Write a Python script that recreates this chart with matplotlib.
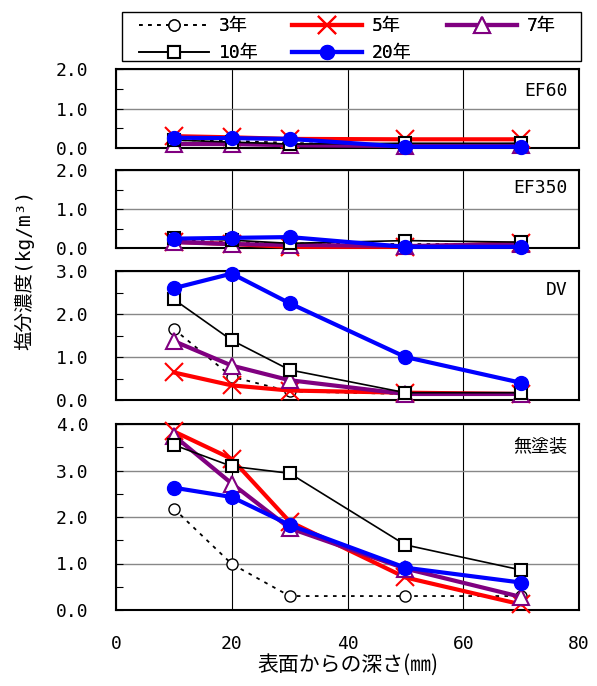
import matplotlib.pyplot as plt
from matplotlib.patches import Rectangle
from matplotlib.ticker import MultipleLocator, FormatStrFormatter

plt.rcParams['font.family'] = ['DejaVu Sans Mono', 'Noto Sans CJK JP']

# data
depth = [10, 20, 30, 50, 70]
years = ['3年', '5年', '7年', '10年', '20年']
panels = ['EF60', 'EF350', 'DV', '無塗装']

ef60 = [[0.20, 0.18, 0.13, 0.05, 0.05],
        [0.30, 0.27, 0.23, 0.22, 0.22],
        [0.10, 0.10, 0.07, 0.05, 0.08],
        [0.20, 0.15, 0.10, 0.12, 0.12],
        [0.26, 0.25, 0.23, 0.03, 0.03]]
ef350 = [[0.20, 0.15, 0.12, 0.10, 0.10],
         [0.16, 0.10, 0.03, 0.03, 0.12],
         [0.15, 0.10, 0.08, 0.05, 0.10],
         [0.26, 0.20, 0.12, 0.19, 0.15],
         [0.24, 0.26, 0.28, 0.03, 0.03]]
dv = [[1.65, 0.54, 0.20, 0.14, 0.12],
      [0.64, 0.34, 0.22, 0.17, 0.14],
      [1.37, 0.80, 0.46, 0.14, 0.14],
      [2.34, 1.39, 0.70, 0.17, 0.17],
      [2.60, 2.94, 2.25, 1.00, 0.40]]
mutosou = [[2.18, 0.99, 0.30, 0.30, 0.30],
           [3.84, 3.25, 1.90, 0.70, 0.12],
           [3.75, 2.72, 1.76, 0.89, 0.28],
           [3.55, 3.09, 2.94, 1.40, 0.86],
           [2.63, 2.43, 1.83, 0.91, 0.59]]
ymax = [2, 2, 3, 4]

styles = [dict(color='black', ls=(0, (2, 3)), lw=1.3, marker='o', ms=8, mfc='white', mew=1),
          dict(color='red', ls='-', lw=3, marker='x', ms=13, mew=1.5),
          dict(color='#800080', ls='-', lw=3, marker='^', ms=12, mfc='white', mew=1.5),
          dict(color='black', ls='-', lw=1.2, marker='s', ms=9, mfc='white', mew=1.5),
          dict(color='blue', ls='-', lw=3, marker='o', ms=10)]

fig = plt.figure(figsize=(5.97, 6.86), dpi=100)
# axes boxes in pixels (top, bottom)
boxes = [(69, 148), (170, 248), (271, 400), (424, 610)]
left, right = 116, 579
W, H = 597.0, 686.0
label_y = [0.72, 0.77, 0.85, 0.875]

handles = []
for i, (data, name) in enumerate(zip([ef60, ef350, dv, mutosou], panels)):
    top, bot = boxes[i]
    ax = fig.add_axes([left / W, 1 - bot / H, (right - left) / W, (bot - top) / H])
    for j in range(len(years)):
        h, = ax.plot(depth, data[j], label=years[j], clip_on=False, zorder=3 + j, **styles[j])
        if i == 0:
            handles.append(h)
    ax.set_xlim(0, 80)
    ax.set_ylim(0, ymax[i])
    ax.xaxis.set_major_locator(MultipleLocator(20))
    ax.yaxis.set_major_locator(MultipleLocator(1))
    ax.yaxis.set_minor_locator(MultipleLocator(0.5))
    ax.yaxis.set_major_formatter(FormatStrFormatter('%.1f'))
    ax.xaxis.grid(True, color='black', lw=0.8)
    ax.yaxis.grid(True, color='#888888', lw=1.0)
    ax.set_axisbelow(True)
    ax.tick_params(axis='y', which='both', direction='in', length=5, width=0.8,
                   labelsize=13, pad=20)
    ax.tick_params(axis='x', direction='in', length=0, labelsize=13, pad=18)
    if i < 3:
        ax.set_xticklabels([])
    for s in ax.spines.values():
        s.set_linewidth(1.5)
    ax.text(0.975, label_y[i], name, transform=ax.transAxes, ha='right', va='center',
            fontsize=13)

fig.text(347.5 / W, 1 - 665 / H, '表面からの深さ(㎜)', ha='center', va='center',
         fontsize=15, family=['Noto Sans CJK JP', 'DejaVu Sans'])
fig.text(0.040, 1 - 270 / H, '塩分濃度(kg/m³)', rotation=90, ha='center', va='center',
         fontsize=14)

# legend: three columns placed by hand, frame drawn separately
columns = [[0, 3], [1, 4], [2]]
col_x = [139, 292, 447]
for cx, idx in zip(col_x, columns):
    leg = fig.legend([handles[k] for k in idx], [years[k] for k in idx],
                     loc='upper left', bbox_to_anchor=(cx / W, 1 - 17 / H),
                     fontsize=13, handlelength=3.9, handletextpad=0.5,
                     frameon=False, borderaxespad=0, labelspacing=0.5, borderpad=0)
    fig.add_artist(leg)
fig.patches.append(Rectangle((122 / W, 1 - 61 / H), (581 - 122) / W, 49 / H,
                             transform=fig.transFigure, fill=False, ec='black', lw=1.0))

fig.savefig('out.png', dpi=100)
